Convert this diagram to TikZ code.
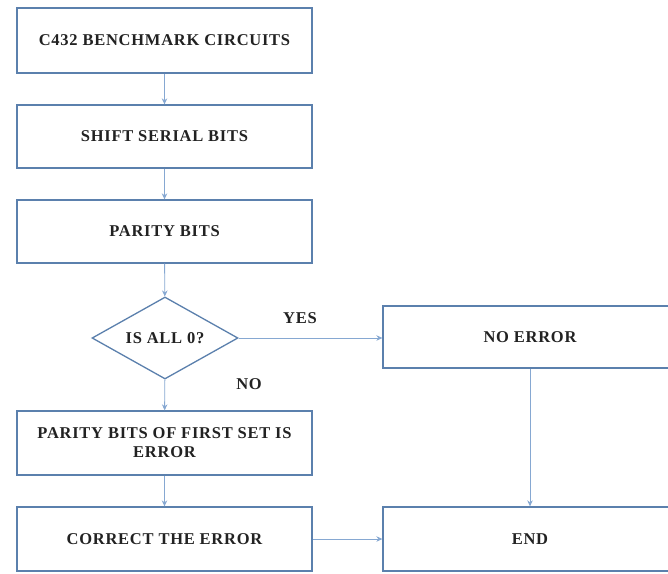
\documentclass[tikz,border=0pt]{standalone}
\usepackage{fontspec}
\setmainfont[LetterSpace=4.5]{Liberation Serif}
\usetikzlibrary{shapes.geometric,arrows.meta}
\definecolor{boxc}{HTML}{5B80AD}
\definecolor{linec}{HTML}{86A8D2}
\definecolor{txtc}{HTML}{222222}
\begin{document}
\begin{tikzpicture}[x=1pt,y=-1pt,
  txt/.style={font=\fontsize{16.5}{19}\selectfont\bfseries,text=txtc},
  box/.style={txt,draw=boxc,line width=1.3pt,fill=white,rectangle,minimum width=295pt,minimum height=63pt,inner sep=2pt,align=center},
  dec/.style={txt,draw=boxc,line width=1.3pt,fill=white,diamond,aspect=1.78,minimum width=146pt,minimum height=82pt,inner sep=0pt},
  conn/.style={draw=linec,line width=0.9pt,-{Stealth[length=6pt,width=5.5pt]}},
  lbl/.style={txt}]
\clip (0,0) rectangle (668,573);
\fill[white] (0,0) rectangle (668,573);
\node[box,minimum height=65pt] (b1) at (164.5,40.5) {C432 BENCHMARK CIRCUITS};
\node[box] (b2) at (164.5,136.5) {SHIFT SERIAL BITS};
\node[box] (b3) at (164.5,231.5) {PARITY BITS};
\node[dec] (d) at (165,338) {IS ALL 0?};
\node[box,minimum height=64pt] (b4) at (164.5,443) {PARITY BITS OF FIRST SET IS\\ERROR};
\node[box,minimum height=64pt] (b5) at (164.5,539) {CORRECT THE ERROR};
\node[box,minimum width=294pt,minimum height=62pt] (ne) at (530,337) {NO ERROR};
\node[box,minimum width=294pt,minimum height=64pt] (en) at (530,539) {END};
\node[lbl] (yes) at (300,318) {YES};
\node[lbl] (no) at (249,384) {NO};
\draw[conn] (b1) -- (b2);
\draw[conn] (b2) -- (b3);
\draw[conn] (b3) -- (d);
\draw[conn] (d) -- (b4);
\draw[conn] (b4) -- (b5);
\draw[conn] (d.east) -- (ne.west |- d.east);
\draw[conn] (b5.east) -- (en.west |- b5.east);
\draw[conn] (ne) -- (en);
\end{tikzpicture}
\end{document}
